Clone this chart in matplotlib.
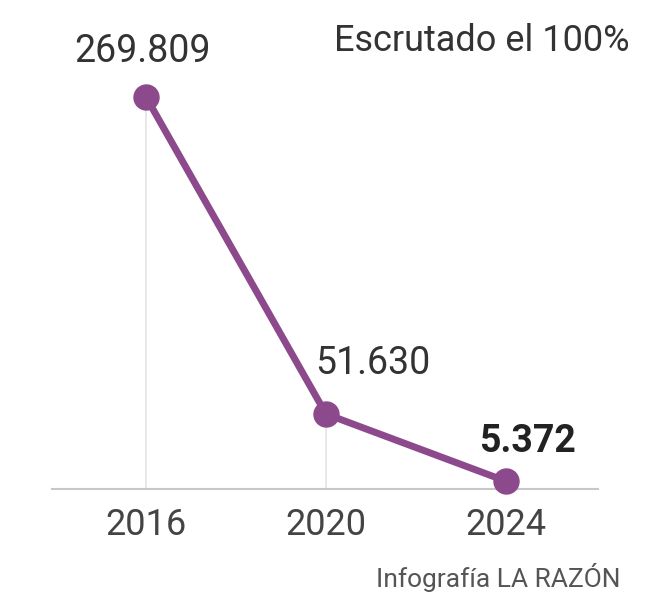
import matplotlib
matplotlib.use('Agg')
import matplotlib.pyplot as plt

years = [2016, 2020, 2024]
votes = [269809, 51630, 5372]
vote_labels = ['269.809', '51.630', '5.372']

plt.rcParams['font.family'] = ['Roboto', 'DejaVu Sans']

purple = '#8c4a8c'
txt = '#333333'

fig = plt.figure(figsize=(6.67, 5.95), dpi=100)
W, H = 667, 595
# axes placed in pixel terms: baseline at y=489, top value at y=97
ax = fig.add_axes([52 / W, (H - 489) / H, (598 - 52) / W, (489 - 97) / H])
ax.set_xlim(2016 - 94 / 45, 2024 + 92 / 45)
ax.set_ylim(0, max(votes))

# thin guide lines from the points down to the baseline
for x, v in zip(years, votes):
    ax.plot([x, x], [0, v], color='#e4e4e4', lw=1.2, zorder=1, clip_on=False)

ax.plot(years, votes, color=purple, lw=5, marker='o', ms=18,
        solid_capstyle='round', zorder=3, clip_on=False)

offsets = [(-4, 45), (47, 50), (21, 40)]
weights = ['normal', 'normal', 'bold']
for x, v, lab, off, w in zip(years, votes, vote_labels, offsets, weights):
    ax.annotate(lab, (x, v), xytext=off, textcoords='offset pixels',
                ha='center', va='center', fontsize=27,
                color=txt if w == 'normal' else '#222222', fontweight=w)

for s in ['top', 'right', 'left']:
    ax.spines[s].set_visible(False)
ax.spines['bottom'].set_color('#c8c8c8')
ax.spines['bottom'].set_linewidth(1.5)
ax.set_yticks([])
ax.set_xticks(years)
ax.set_xticklabels([str(y) for y in years], fontsize=26, color='#444444')
ax.tick_params(axis='x', length=0, pad=13)

fig.text(630 / W, 1 - 41 / H, 'Escrutado el 100%', ha='right', va='center',
         fontsize=26, color=txt)
fig.text(620 / W, 1 - 578 / H, 'Infografía LA RAZÓN', ha='right', va='center',
         fontsize=19, color='#555555')

fig.savefig('out.png', dpi=100)
